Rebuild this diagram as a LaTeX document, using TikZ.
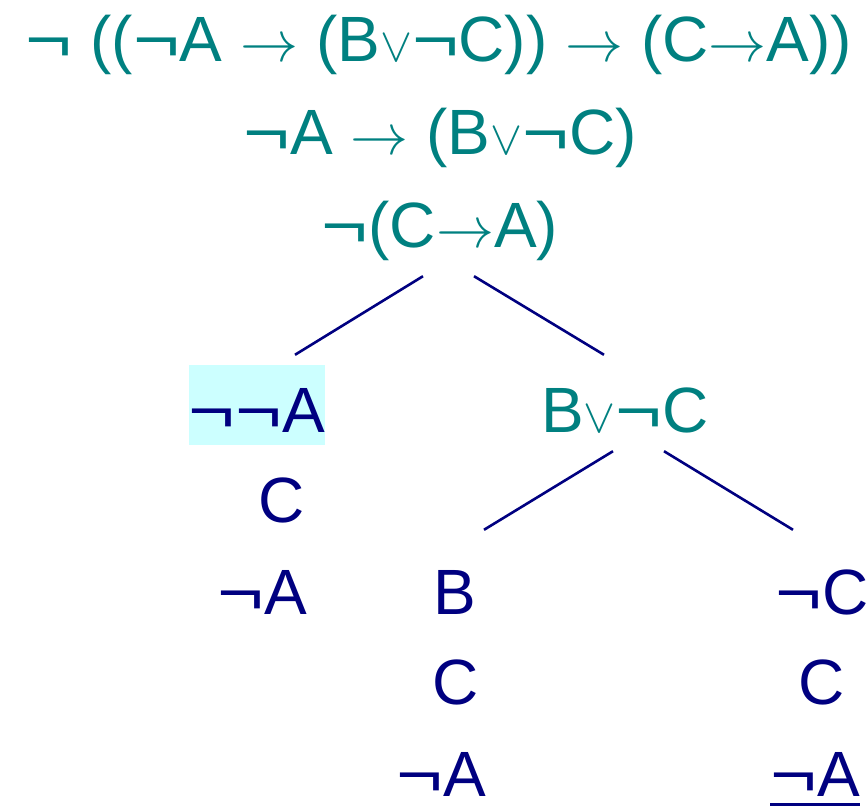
\documentclass[tikz,border=0pt]{standalone}
\usepackage{fontspec}
\setmainfont{Liberation Sans}
\usepackage{graphicx}
\usepackage{tikz}
\usetikzlibrary{calc,positioning}
\definecolor{formTeal}{RGB}{0,128,128}
\definecolor{treeNavy}{RGB}{0,0,128}
\definecolor{closeCyan}{RGB}{204,255,255}
\newcommand{\imp}{\resizebox{58pt}{!}{$\rightarrow$}}
\newcommand{\disj}{\resizebox{32pt}{!}{$\vee$}}
\newcommand{\nt}{\scalebox{1.25}[1]{¬}}

\begin{document}
\begin{tikzpicture}[x=1pt,y=1pt,
  form/.style={inner sep=0pt,anchor=base,text height=46pt,text depth=14pt,
               font=\fontsize{64}{70}\selectfont},
  given/.style={form,text=formTeal},
  derived/.style={form,text=treeNavy},
  marked/.style={derived,fill=closeCyan,minimum width=135pt,text height=67pt,text depth=13pt},
  branch/.style={draw=treeNavy,line width=2.6pt}
]
  \useasboundingbox (0,0) rectangle (867,-810);

  \node[given](root)   at (439,-62)  {\nt{} ((\nt A \imp{} (B\disj\nt C)) \imp{} (C\imp A))};
  \node[given](prem)   at (440,-155) {\nt A \imp{} (B\disj\nt C)};
  \node[given](concl)  at (440,-248) {\nt(C\imp A)};

  \node[marked](nna)   at (257,-432) {\nt\nt A};
  \node[given](bornc)  at (625,-432) {B\disj\nt C};
  \node[derived](c1)   at (282,-522) {C};
  \node[derived](na1)  at (262,-614) {\nt A};

  \node[derived](b)    at (455,-614) {B};
  \node[derived](c2)   at (456,-704) {C};
  \node[derived](na2)  at (441,-796) {\nt A};

  \node[derived](nc)   at (822,-614) {\nt C};
  \node[derived](c3)   at (822,-704) {C};
  \node[derived](na3)  at (815,-796) {\nt A};

  \draw[branch]([xshift=-17pt,yshift=-14pt]concl.south)--([xshift=38pt,yshift=10pt]nna.north);
  \draw[branch]([xshift=34pt,yshift=-14pt]concl.south)--([xshift=-21pt,yshift=31pt]bornc.north);
  \draw[branch]([xshift=-12pt,yshift=-5pt]bornc.south)--([xshift=29pt,yshift=38pt]b.north);
  \draw[branch]([xshift=39pt,yshift=-5pt]bornc.south)--([xshift=-29pt,yshift=38pt]nc.north);

  % closed branch
  \draw[treeNavy,line width=3pt]([xshift=-45pt,yshift=-8pt]na3.base)--([xshift=45pt,yshift=-8pt]na3.base);
\end{tikzpicture}
\end{document}
